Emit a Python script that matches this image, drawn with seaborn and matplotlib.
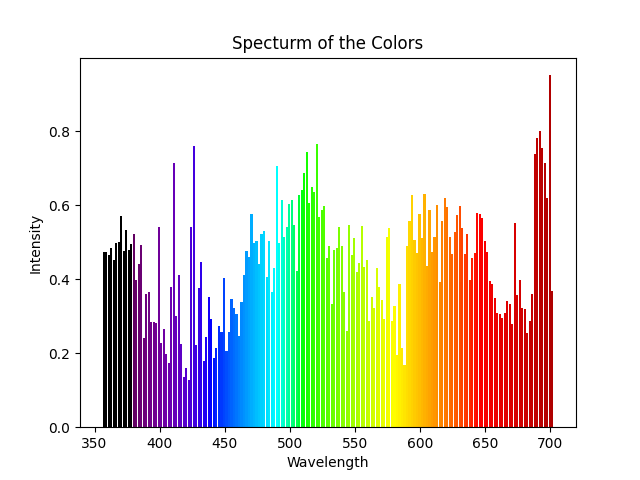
import numpy as np
import matplotlib
matplotlib.use("Agg")
import matplotlib.pyplot as plt
import seaborn as sns

# bar tops (pixel rows in zoomed crops converted below)
z1 = [397,395,405,385,418,368,365,287,392,330,390,372,340,480,432,375,655,520,515,607,607,608,320,668,627,700,728,500,128,588,465]
z2 = [672,770,745,780,320,78,675,502,425,722,650,530,597,713,683,618,635,473,692,635,537,562,582,648,545,465,393,410,280,368,362]
z3 = [432,342,332,470,363,515,443,138,368,240,352,320,252,240,315,452,225,210,160,95,250,200,215,72,290,270,258,415,378,553,390,385]
z4 = [320,378,515,632,315,405,353,455,428,318,440,420,603,530,563,443,500,540,597,350,323,602,557,705,493,685,735,377,302,225,358,398]
z5 = [282,355,222,437,270,395,350,255,485,302,233,262,350,400,335,285,257,325,400,343,480,415,398,278,282,293,362,395,482,490,535,578]
z6 = [762,772,758,722,733,790,488,705,660,745,748,818,782,702,283,235,213,263,308,415,45,692]

intensity = [round((307 - v/3)/370, 3) for v in z1+z2+z3+z4+z5] + [round((367 - v/3)/370, 3) for v in z6]
wavelength = np.linspace(357, 702, len(intensity))

def wl_rgb(w, gamma=0.8):
    if 380 <= w <= 440:
        a = 0.3 + 0.7*(w-380)/60
        r, g, b = ((-(w-440)/60)*a)**gamma, 0.0, a**gamma
    elif 440 < w <= 490:
        r, g, b = 0.0, ((w-440)/50)**gamma, 1.0
    elif 490 < w <= 510:
        r, g, b = 0.0, 1.0, (-(w-510)/20)**gamma
    elif 510 < w <= 580:
        r, g, b = ((w-510)/70)**gamma, 1.0, 0.0
    elif 580 < w <= 645:
        r, g, b = 1.0, (-(w-645)/65)**gamma, 0.0
    elif 645 < w <= 750:
        a = 0.3 + 0.7*(750-w)/105
        r, g, b = a**gamma, 0.0, 0.0
    else:
        r, g, b = 0.0, 0.0, 0.0
    return (r, g, b)

sns.reset_orig()
fig, ax = plt.subplots(figsize=(6.4, 4.8), dpi=100)
step = wavelength[1] - wavelength[0]
ax.bar(wavelength, intensity, width=step*0.85, color=[wl_rgb(w) for w in wavelength])
ax.set_title("Specturm of the Colors")
ax.set_xlabel("Wavelength")
ax.set_ylabel("Intensity")
fig.savefig("out.png")
